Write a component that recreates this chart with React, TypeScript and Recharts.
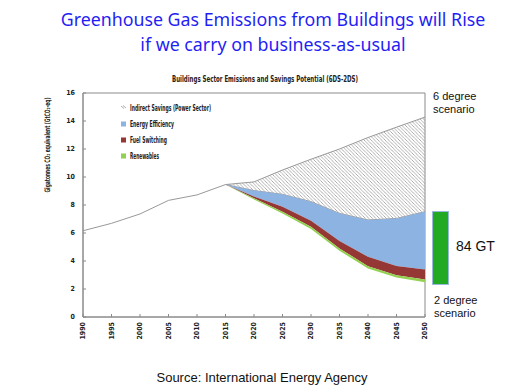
import { ComposedChart, Area, Line, XAxis, YAxis, ReferenceArea } from 'recharts';

// values (GtCO2-eq)
const years = [1990, 1995, 2000, 2005, 2010, 2015, 2020, 2025, 2030, 2035, 2040, 2045, 2050];
const historical = [6.16, 6.69, 7.36, 8.33, 8.72, 9.46, null, null, null, null, null, null, null];
const sixDS = [null, null, null, null, null, 9.46, 9.65, 10.5, 11.27, 12.0, 12.82, 13.56, 14.28];
const efficiencyTop = [null, null, null, null, null, 9.46, 9.03, 8.76, 8.24, 7.4, 6.93, 7.04, 7.52];
const switchingTop = [null, null, null, null, null, 9.46, 8.6, 7.88, 6.88, 5.42, 4.3, 3.65, 3.39];
const renewablesTop = [null, null, null, null, null, 9.46, 8.48, 7.52, 6.45, 4.9, 3.63, 2.98, 2.67];
const twoDS = [null, null, null, null, null, 9.46, 8.4, 7.4, 6.28, 4.73, 3.46, 2.82, 2.48];
const yTicks = [0, 2, 4, 6, 8, 10, 12, 14, 16];

const legendItems = [
  { name: 'Indirect Savings (Power Sector)', color: 'hatch', len: 81 },
  { name: 'Energy Efficiency', color: '#8db3e2', len: 44 },
  { name: 'Fuel Switching', color: '#953735', len: 37 },
  { name: 'Renewables', color: '#92d050', len: 29 },
];

const range = (lo: number | null, hi: number | null) => (lo == null || hi == null ? null : [lo, hi]);

const data = years.map((year, i) => ({
  year,
  hist: historical[i],
  indirect: range(efficiencyTop[i], sixDS[i]),
  efficiency: range(switchingTop[i], efficiencyTop[i]),
  switching: range(renewablesTop[i], switchingTop[i]),
  renewables: range(twoDS[i], renewablesTop[i]),
}));

const FONT = '"Liberation Sans Narrow", "DejaVu Sans Condensed", sans-serif';
const ARIAL = '"Liberation Sans", Arial, sans-serif';
const AXIS = '#8a8a8a';

function XTick({ x, y, payload }: any) {
  return (
    <g>
      <line x1={x} x2={x} y1={y} y2={y - 3} stroke={AXIS} />
      <text x={x} y={y + 5} transform={`rotate(-90 ${x} ${y + 5})`} textAnchor="end" dominantBaseline="central"
        fontSize={7} fontWeight="bold" fontFamily={FONT} fill="#222">{payload.value}</text>
    </g>
  );
}

function YTick({ x, y, payload }: any) {
  return (
    <g>
      <line x1={x} x2={x + 3} y1={y} y2={y} stroke={AXIS} />
      <text x={x - 8} y={y} textAnchor="end" dominantBaseline="central"
        fontSize={7} fontWeight="bold" fontFamily={FONT} fill="#222">{payload.value}</text>
    </g>
  );
}

function Overlay() {
  return (
    <svg style={{ position: 'absolute', left: 0, top: 0 }} width={524} height={390} pointerEvents="none">
      <text x={172} y={79} dominantBaseline="central" textLength={186} lengthAdjust="spacingAndGlyphs"
        fontSize={9} fontWeight="bold" fontFamily={FONT} fill="#222">
        Buildings Sector Emissions and Savings Potential (6DS-2DS)
      </text>
      <text x={47} y={145} transform="rotate(-90 47 145)" textAnchor="middle" dominantBaseline="central"
        textLength={95} lengthAdjust="spacingAndGlyphs"
        fontSize={7.5} fontWeight="bold" fontFamily={FONT} fill="#222">Gigatonnes CO₂ equivalent (GtCO₂-eq)</text>
      {legendItems.map((it, i) => {
        const cy = 108 + i * 16;
        return (
          <g key={it.name}>
            {it.color === 'hatch' ? (
              <path d={`M121,${cy - 2} l3,2.5 M123,${cy - 2.5} l3,2.5`} stroke="#999" strokeWidth={0.8} />
            ) : (
              <rect x={121} y={cy - 2.5} width={5} height={5} fill={it.color} />
            )}
            <text x={130} y={cy} dominantBaseline="central" textLength={it.len} lengthAdjust="spacingAndGlyphs"
              fontSize={8.5} fontWeight="bold" fontFamily={FONT} fill="#222">{it.name}</text>
          </g>
        );
      })}
    </svg>
  );
}

export default function App() {
  return (
    <div style={{ position: 'absolute', left: 0, top: 0, width: 524, height: 390, background: '#fff' }}>
      <div style={{ position: 'absolute', left: 0, top: 7, width: 546, textAlign: 'center', color: '#1f1ff5',
        fontFamily: '"Noto Sans", sans-serif', fontSize: 17.8, lineHeight: '25px' }}>
        Greenhouse Gas Emissions from Buildings will Rise<br />if we carry on business-as-usual
      </div>
      <div style={{ position: 'absolute', left: 0, top: 0 }}>
        <ComposedChart width={524} height={390} data={data} margin={{ top: 93, right: 99, bottom: 43, left: 63 }}>
          <defs>
            <pattern id="hatch" patternUnits="userSpaceOnUse" width={3.5} height={3.5}>
              <path d="M-1,-1 l2,2 M0,0 l3.5,3.5 M2.5,2.5 l2,2" stroke="#9c9c9c" strokeWidth={0.7} />
            </pattern>
          </defs>
          <XAxis dataKey="year" type="number" domain={[1990, 2050]} ticks={years} height={30}
            tickSize={0} tickMargin={0} tickLine={false} tick={<XTick />} stroke={AXIS} interval={0} />
          <YAxis type="number" domain={[0, 16]} ticks={yTicks} width={20}
            tickSize={0} tickMargin={0} tickLine={false} tick={<YTick />} stroke={AXIS} interval={0} />
          <ReferenceArea x1={1990} x2={2050} y1={0} y2={16} fill="none" stroke={AXIS} strokeWidth={1} />
          <Area dataKey="indirect" type="linear" fill="url(#hatch)" fillOpacity={1} stroke="#999" strokeWidth={1}
            isAnimationActive={false} />
          <Area dataKey="efficiency" type="linear" fill="#8db3e2" fillOpacity={1} stroke="none" isAnimationActive={false} />
          <Area dataKey="switching" type="linear" fill="#953735" fillOpacity={1} stroke="none" isAnimationActive={false} />
          <Area dataKey="renewables" type="linear" fill="#92d050" fillOpacity={1} stroke="none" isAnimationActive={false} />
          <Line dataKey="hist" type="linear" stroke="#999" strokeWidth={1} dot={false} isAnimationActive={false} />
        </ComposedChart>
      </div>
      <Overlay />
      <div style={{ position: 'absolute', left: 433, top: 90, fontFamily: ARIAL,
        fontSize: 11, lineHeight: '13px', color: '#111' }}>6 degree<br />scenario</div>
      <div style={{ position: 'absolute', left: 432, top: 211, width: 15, height: 72, background: '#22aa22',
        border: '1px solid #9ab8dc' }} />
      <div style={{ position: 'absolute', left: 456, top: 238, fontFamily: ARIAL,
        fontSize: 14, color: '#111' }}>84 GT</div>
      <div style={{ position: 'absolute', left: 434, top: 294, fontFamily: ARIAL,
        fontSize: 11, lineHeight: '13px', color: '#111' }}>2 degree<br />scenario</div>
      <div style={{ position: 'absolute', left: 0, top: 370, width: 524, textAlign: 'center',
        fontFamily: ARIAL, fontSize: 13, color: '#111' }}>
        Source: International Energy Agency
      </div>
    </div>
  );
}
